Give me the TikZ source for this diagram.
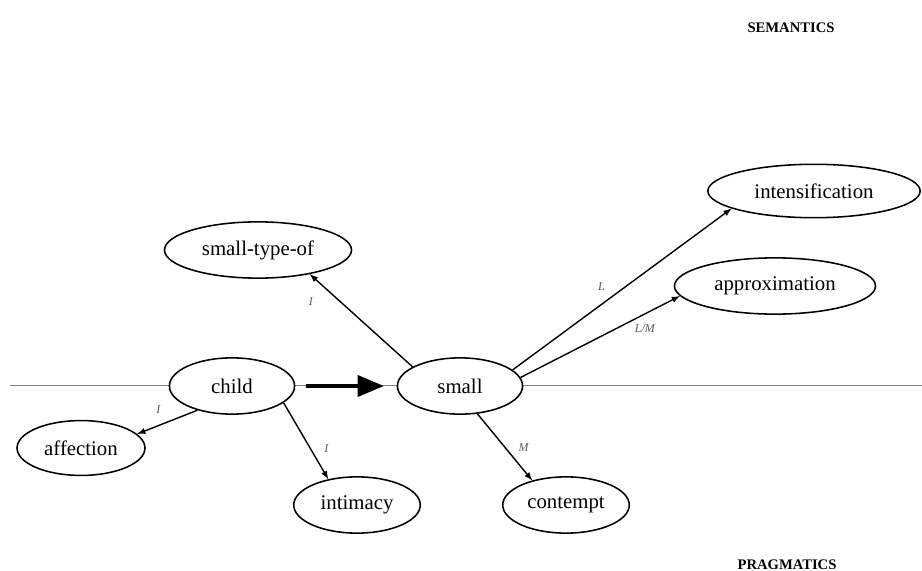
\documentclass[tikz,border=0pt]{standalone}
\usepackage{fontspec}
\setmainfont{Liberation Serif}
\usepackage{tikz}
\usetikzlibrary{arrows,shapes,positioning,calc}
\tikzstyle{sense}=[ellipse, draw=black, fill=white, line width=1.1pt, inner sep=0pt, minimum height=40pt, font=\fontsize{14.8}{17}\selectfont]
\tikzstyle{lab}=[font=\fontsize{8.5}{10}\selectfont\itshape, text=black!65]
\tikzstyle{level}=[font=\fontsize{10.4}{12}\selectfont\bfseries]
\tikzstyle{link}=[-latex, line width=1pt]

\begin{document}
\begin{tikzpicture}[x=0.025cm, y=-0.025cm]
      \useasboundingbox (0,0) rectangle (922,571);
      % dividing line
      \coordinate (west) at (10,385);
      \coordinate (east) at (922,385);
      \draw [black!50, line width=0.6pt] (west) -- (east);
      %
      \node at (791,28) [level] (sem) {SEMANTICS};
      \node at (787,569) [level, anchor=base] (prag) {PRAGMATICS};
      %
      \node at (232,386) [sense, minimum width=89pt] (child) {child};
      \node at (460,386) [sense, minimum width=89pt] (small) {small};
      \node at (258,250) [sense, minimum width=133pt] (type) {small-type-of};
      \node at (814,191) [sense, minimum width=151pt, minimum height=38pt] (intens) {intensification};
      \node at (775,286) [sense, minimum width=143pt] (approx) {approximation};
      \node at (81,448) [sense, minimum width=91pt, minimum height=39pt] (affect) {affection};
      \node at (357,505) [sense, minimum width=90pt] (intim) {intimacy};
      \node at (566,505) [sense, minimum width=90pt] (contempt) {contempt};
      %
      \draw [-triangle 45, line width=3.4pt] ($(child.east)+(11,0)$) -- ($(small.west)+(-13,0)$);
      \draw [link] (small.158) -- (type.335) node[lab, pos=0.7, left=16pt] {I};
      \draw [link] (small.17) -- (intens.192) node[lab, pos=0.45, above left=1pt] {L};
      \draw [link] (small.8) -- (approx.186) node[lab, pos=0.78, below=4pt] {L/M};
      \draw [link] (small.302) -- (contempt.144) node[lab, pos=0.5, right=6pt] {M};
      \draw [link] (child.215) -- (affect.14) node[lab, pos=0.65, above=5pt] {I};
      \draw [link] (child.342) -- (intim.138) node[lab, pos=0.6, right=6pt] {I};
      %
\end{tikzpicture}
\end{document}
